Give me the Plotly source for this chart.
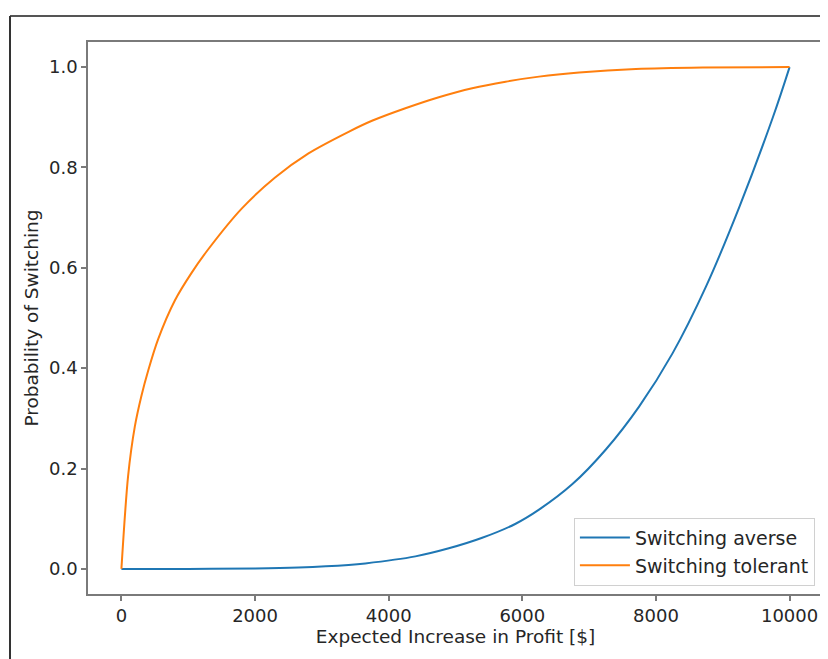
import plotly.graph_objects as go

# Data
averse_x = [0, 1000, 2000, 2650, 3400, 3650, 4400, 4900, 5400, 5900, 6250,
            6750, 7250, 7750, 8250, 8750, 9250, 9750, 10000]
averse_y = [0.0, 0.0, 0.001, 0.003, 0.008, 0.011, 0.025, 0.041, 0.062, 0.090, 0.118,
            0.169, 0.238, 0.324, 0.430, 0.563, 0.722, 0.900, 1.0]

tolerant_x = [0, 100, 200, 300, 400, 550, 800, 1050, 1300, 1800, 2300, 2800, 3400, 3750,
              4250, 4750, 5250, 5750, 6250, 6850, 7700, 8700, 10000]
tolerant_y = [0.0, 0.185, 0.283, 0.345, 0.395, 0.458, 0.535, 0.590, 0.637, 0.718, 0.780, 0.828,
              0.871, 0.893, 0.918, 0.940, 0.958, 0.971, 0.981, 0.989, 0.996, 0.999, 1.0]

series_names = ["Switching averse", "Switching tolerant"]
series_colors = ["#1f77b4", "#ff7f0e"]

x_ticks = [0, 2000, 4000, 6000, 8000, 10000]
x_tick_text = ["0", "2000", "4000", "6000", "8000", "10000"]
y_ticks = [0.0, 0.2, 0.4, 0.6, 0.8, 1.0]
y_tick_text = ["0.0", "0.2", "0.4", "0.6", "0.8", "1.0"]

x_title = "Expected Increase in Profit [$]"
y_title = "Probability of Switching"

# page body adds an 8px offset, so the figure is 8px smaller than the window
W, H = 820, 651
ML, MR, MT, MB = 80, 5, 34, 65

fig = go.Figure()
fig.add_trace(go.Scatter(x=averse_x, y=averse_y, mode="lines", name=series_names[0],
                         line=dict(color=series_colors[0], width=2, shape="spline", smoothing=1.0)))
fig.add_trace(go.Scatter(x=tolerant_x, y=tolerant_y, mode="lines", name=series_names[1],
                         line=dict(color=series_colors[1], width=2, shape="spline", smoothing=0.8)))

tick_font = dict(family="DejaVu Sans", size=18, color="#262626")
title_font = dict(family="DejaVu Sans", size=18.5, color="#262626")
legend_font = dict(family="DejaVu Sans", size=19, color="#262626")

axis_common = dict(showline=True, linecolor="#7a7a7a", linewidth=1.5, mirror=True,
                   showgrid=False, zeroline=False, ticks="outside", ticklen=5,
                   tickcolor="#7a7a7a", tickwidth=1.5, tickfont=tick_font)

fig.update_xaxes(range=[-500, 10500], tickvals=x_ticks, ticktext=x_tick_text,
                 title=dict(text=x_title, font=title_font, standoff=4), **axis_common)
fig.update_yaxes(range=[-0.05, 1.05], tickvals=y_ticks, ticktext=y_tick_text,
                 title=dict(text=y_title, font=title_font, standoff=6), **axis_common)

pw = W - ML - MR
ph = H - MT - MB
top_px, left_px = 8, 2
fig.add_shape(type="line", xref="paper", yref="paper",
              x0=(left_px - ML) / pw, x1=(W + 5 - ML) / pw,
              y0=(H - MB - top_px) / ph, y1=(H - MB - top_px) / ph,
              line=dict(color="#555555", width=2))
fig.add_shape(type="line", xref="paper", yref="paper",
              x0=(left_px - ML) / pw, x1=(left_px - ML) / pw,
              y0=(H - MB - top_px) / ph, y1=(H - MB - H - 5) / ph,
              line=dict(color="#333333", width=2))

fig.update_layout(
    width=W, height=H,
    margin=dict(l=ML, r=MR, t=MT, b=MB, autoexpand=False),
    paper_bgcolor="white", plot_bgcolor="white",
    font=tick_font,
    showlegend=True,
    legend=dict(x=0.989, y=0.015, xanchor="right", yanchor="bottom",
                bgcolor="rgba(255,255,255,0.8)", bordercolor="#d0d0d0", borderwidth=1,
                font=legend_font, tracegroupgap=0, itemwidth=50),
)

fig.write_html("out.html")
